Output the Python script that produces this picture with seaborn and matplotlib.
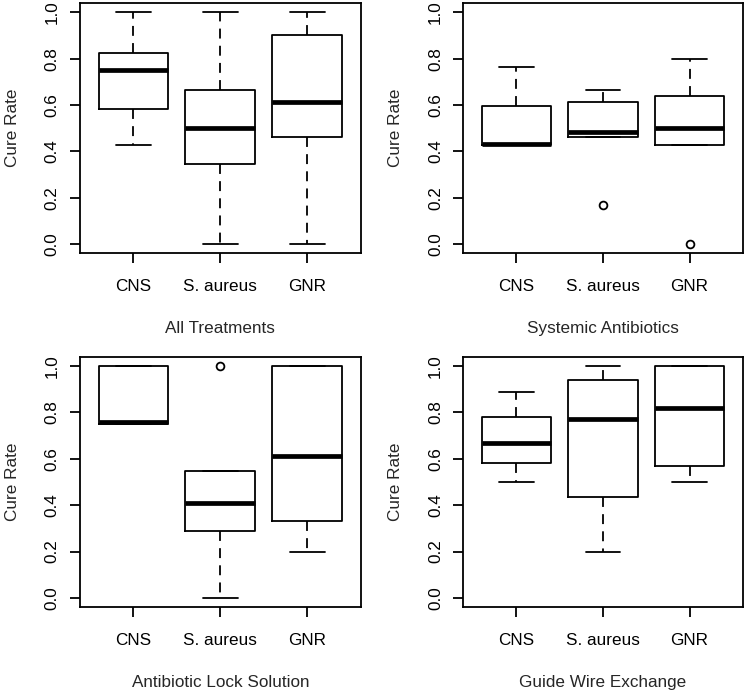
import matplotlib
matplotlib.use("Agg")
import matplotlib.pyplot as plt
import seaborn as sns

# groups and panels
groups = ["CNS", "S. aureus", "GNR"]
panels = ["All Treatments", "Systemic Antibiotics",
          "Antibiotic Lock Solution", "Guide Wire Exchange"]

# box statistics, one row per panel (CNS, S. aureus, GNR)
whisker_low = [[0.429, 0.0, 0.0],
               [0.429, 0.464, 0.429],
               [0.75, 0.0, 0.2],
               [0.5, 0.2, 0.5]]
q1 = [[0.583, 0.346, 0.464],
      [0.429, 0.464, 0.429],
      [0.75, 0.287, 0.333],
      [0.583, 0.435, 0.569]]
median = [[0.75, 0.5, 0.614],
          [0.432, 0.485, 0.5],
          [0.758, 0.409, 0.614],
          [0.667, 0.772, 0.818]]
q3 = [[0.826, 0.667, 0.9],
      [0.598, 0.612, 0.637],
      [1.0, 0.547, 1.0],
      [0.779, 0.938, 1.0]]
whisker_high = [[1.0, 1.0, 1.0],
                [0.765, 0.667, 0.8],
                [1.0, 0.547, 1.0],
                [0.889, 1.0, 1.0]]
outliers = [[[], [], []],
            [[], [0.167], [0.0]],
            [[], [1.0], []],
            [[], [], []]]

yticks = [0.0, 0.2, 0.4, 0.6, 0.8, 1.0]

sns.set_theme(style="ticks", rc={"axes.edgecolor": "black", "xtick.color": "black",
                                 "ytick.color": "black", "axes.linewidth": 1.3})
plt.rcParams["font.family"] = ["Liberation Sans", "DejaVu Sans"]

W, H = 747, 691
fig = plt.figure(figsize=(W / 100, H / 100), dpi=100)
fig.patch.set_facecolor("white")

# axes frames in pixels: left, top, right, bottom
frames = [(79.5, 3, 361, 253.5), (462.7, 3, 743.3, 253.5),
          (79.5, 356.7, 361, 607.3), (462.7, 356.7, 743.3, 607.3)]

lw = 1.3
fs = 12.3
for k, name in enumerate(panels):
    l, t, r, b = frames[k]
    ax = fig.add_axes([l / W, 1 - b / H, (r - l) / W, (b - t) / H])
    ax.set_facecolor("white")
    stats = []
    for i, g in enumerate(groups):
        stats.append(dict(label=g, whislo=whisker_low[k][i], q1=q1[k][i],
                          med=median[k][i], q3=q3[k][i],
                          whishi=whisker_high[k][i], fliers=outliers[k][i]))
    ax.bxp(stats, positions=[1, 2, 3], widths=0.8, capwidths=0.4,
           manage_ticks=False,
           boxprops=dict(color="black", linewidth=lw),
           medianprops=dict(color="black", linewidth=3.4, solid_capstyle="butt"),
           whiskerprops=dict(color="black", linewidth=lw, linestyle=(0, (5.5, 4))),
           capprops=dict(color="black", linewidth=lw),
           flierprops=dict(marker="o", markerfacecolor="none", markeredgecolor="black",
                           markersize=5.6, markeredgewidth=lw))
    ax.set_xlim(0.38, 3.62)
    ax.set_ylim(-0.04, 1.04)
    ax.set_xticks([1, 2, 3])
    ax.set_xticklabels(groups, fontsize=fs)
    ax.set_yticks(yticks)
    ax.set_yticklabels([f"{v:.1f}" for v in yticks], fontsize=fs,
                       rotation=90, va="center")
    ax.tick_params(axis="both", length=7.2, width=lw, direction="out")
    ax.tick_params(axis="y", pad=7)
    ax.tick_params(axis="x", pad=11.5)
    ax.set_ylabel("Cure Rate", fontsize=fs, labelpad=18)
    ax.set_xlabel(name, fontsize=fs, labelpad=19)
    for s in ax.spines.values():
        s.set_visible(True)
        s.set_color("black")
        s.set_linewidth(lw)

fig.savefig("out.png", dpi=100, facecolor="white")
